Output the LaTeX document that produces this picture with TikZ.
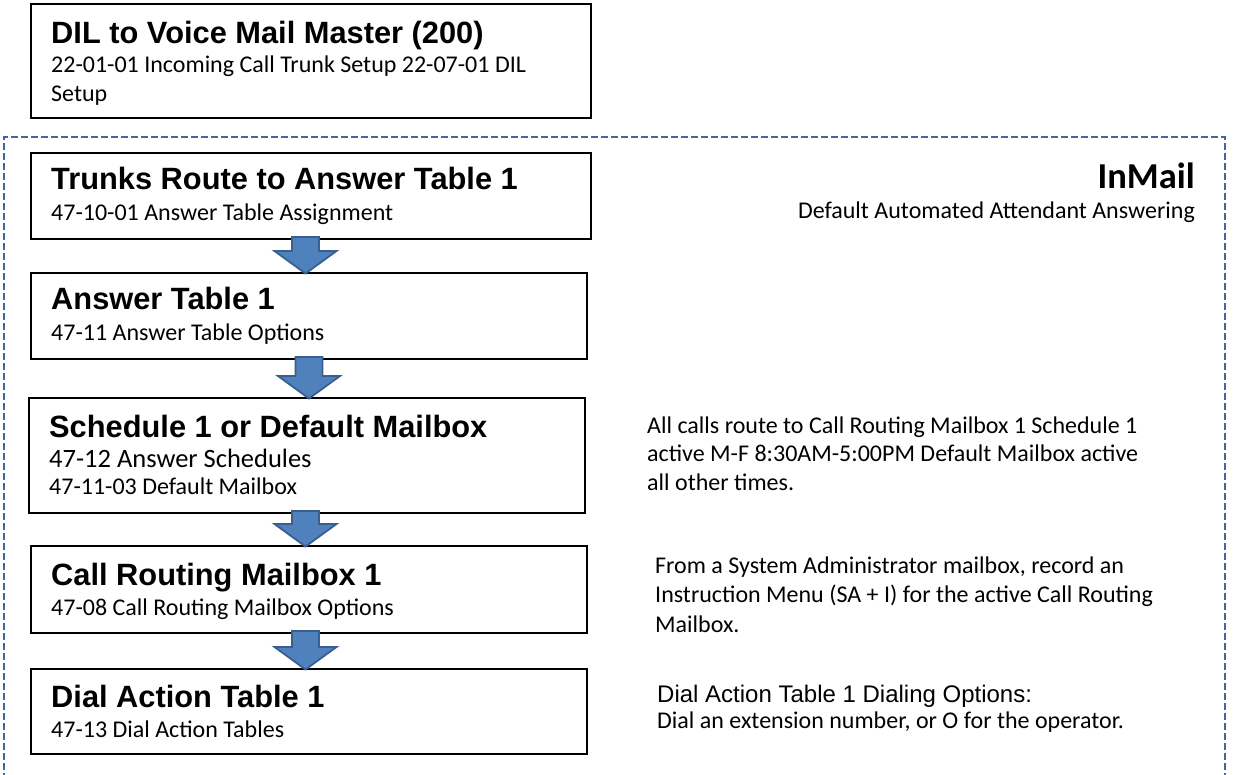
\documentclass[tikz,border=0pt]{standalone}
\usepackage{fontspec}
\setmainfont{Carlito}
\newfontfamily\arialf{Liberation Sans}
\usetikzlibrary{calc}
\definecolor{arrowfill}{HTML}{4F81BD}
\definecolor{arrowline}{HTML}{3A5F8E}
\definecolor{dashblue}{HTML}{41679D}
\newcommand\dnarrow[3]{%
  \draw[blockarr] let \p1=(#1.south), \p2=(#2.north) in
   (#3pt-13.5pt,\y1+3pt) -- (#3pt+13.5pt,\y1+3pt) -- (#3pt+13.5pt,\y2+21pt)
   -- (#3pt+31pt,\y2+21pt) -- (#3pt,\y2-1.5pt) -- (#3pt-31pt,\y2+21pt)
   -- (#3pt-13.5pt,\y2+21pt) -- cycle;}
\begin{document}
\begin{tikzpicture}[x=1pt,y=-1pt,
  box/.style={draw=black, line width=2pt, fill=white, inner sep=0pt, rectangle, anchor=north west},
  ttl/.style={anchor=base west, inner sep=0pt, font=\arialf\bfseries\fontsize{30.8}{36}\selectfont},
  sub/.style={anchor=base west, inner sep=0pt, font=\fontsize{24}{29}\selectfont},
  bigsub/.style={anchor=base west, inner sep=0pt, font=\fontsize{26.5}{31}\selectfont},
  note/.style={anchor=base west, inner sep=0pt, font=\fontsize{24}{29}\selectfont},
  notehead/.style={anchor=base west, inner sep=0pt, font=\arialf\fontsize{24}{29}\selectfont},
  blockarr/.style={fill=arrowfill, draw=arrowline, line width=1.8pt, line join=miter},
  frame/.style={draw=dashblue, line width=1.5pt, dash pattern=on 7pt off 3pt}]
\clip (0,0) rectangle (1233,774);
\fill[white] (0,0) rectangle (1233,774);
% dashed InMail frame (open at the bottom of the picture)
\draw[frame] (4,790) -- (4,137) -- (1225,137) -- (1225,790);
% boxes
\node[box, minimum width=560pt, minimum height=114pt] (b1) at (30,3) {};
\node[box, minimum width=560pt, minimum height=86pt] (b2) at (30,152) {};
\node[box, minimum width=556pt, minimum height=86pt] (b3) at (30,272) {};
\node[box, minimum width=556pt, minimum height=115pt] (b4) at (28,397) {};
\node[box, minimum width=556pt, minimum height=87pt] (b5) at (30,545) {};
\node[box, minimum width=556pt, minimum height=85pt] (b6) at (30,668) {};
% block arrows
\dnarrow{b2}{b3}{305.5}
\dnarrow{b3}{b4}{309}
\dnarrow{b4}{b5}{305.5}
\dnarrow{b5}{b6}{305.5}
% box texts
\node[ttl] (t1) at (51,43) {DIL to Voice Mail Master (200)};
\node[sub] (s1a) at (51,72) {22-01-01 Incoming Call Trunk Setup 22-07-01 DIL};
\node[sub] (s1b) at (51,101) {Setup};
\node[ttl] (t2) at (51,189) {Trunks Route to Answer Table 1};
\node[sub] (s2) at (51,220) {47-10-01 Answer Table Assignment};
\node[ttl] (t3) at (51,309) {Answer Table 1};
\node[sub] (s3) at (51,340) {47-11 Answer Table Options};
\node[ttl] (t4) at (49,437) {Schedule 1 or Default Mailbox};
\node[bigsub] (s4a) at (49,467) {47-12 Answer Schedules};
\node[sub] (s4b) at (49,494) {47-11-03 Default Mailbox};
\node[ttl] (t5) at (51,585) {Call Routing Mailbox 1};
\node[sub] (s5) at (51,615) {47-08 Call Routing Mailbox Options};
\node[ttl] (t6) at (51,707) {Dial Action Table 1};
\node[sub] (s6) at (51,737) {47-13 Dial Action Tables};
% InMail heading
\node[anchor=base east, inner sep=0pt, font=\bfseries\fontsize{36.5}{42}\selectfont] (im) at (1195,188) {InMail};
\node[anchor=base east, inner sep=0pt, font=\fontsize{24}{29}\selectfont] (ims) at (1195,218) {Default Automated Attendant Answering};
% notes
\node[note] (n1a) at (647,433) {All calls route to Call Routing Mailbox 1 Schedule 1};
\node[note] (n1b) at (647,461.5) {active M-F 8:30AM-5:00PM Default Mailbox active};
\node[note] (n1c) at (647,490) {all other times.};
\node[note] (n2a) at (655,573) {From a System Administrator mailbox, record an};
\node[note] (n2b) at (655,602) {Instruction Menu (SA + I) for the active Call Routing};
\node[note] (n2c) at (655,632) {Mailbox.};
\node[notehead] (n3a) at (657,702) {Dial Action Table 1 Dialing Options:};
\node[note] (n3b) at (657,728) {Dial an extension number, or O for the operator.};
\end{tikzpicture}
\end{document}
